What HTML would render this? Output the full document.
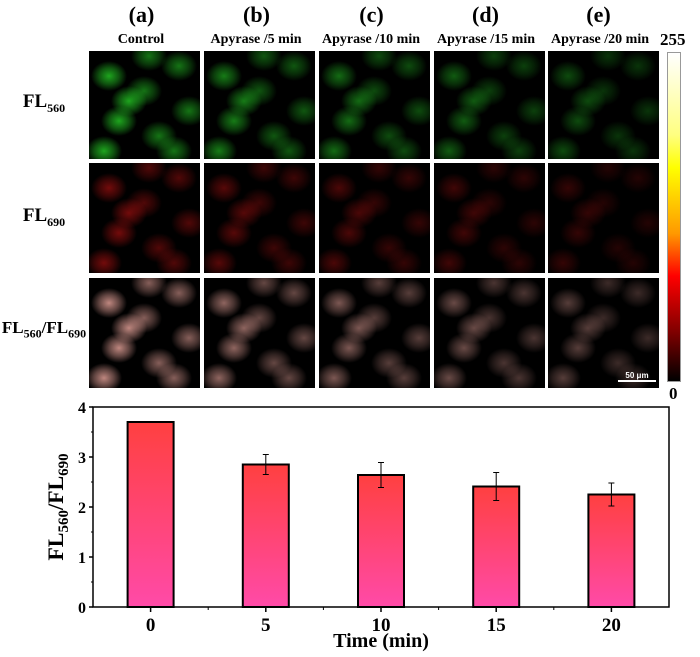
<!DOCTYPE html>
<html><head><meta charset="utf-8">
<style>
body{margin:0;background:#fff;width:700px;height:657px;position:relative;overflow:hidden;font-family:"Liberation Serif",serif;font-weight:bold;color:#000}
.abs{position:absolute}
.hdr{position:absolute;font-size:22px;text-align:center;width:111px;top:2px}
.sub{position:absolute;font-size:14px;text-align:center;width:118px;top:32px;white-space:nowrap}
.rl{position:absolute;font-size:19px;text-align:center;width:88px}
.rl sub{font-size:12px}
.panel{position:absolute;width:111px;background-color:#000;overflow:hidden}
</style></head>
<body>
<div class="hdr" style="left:86px">(a)</div>
<div class="hdr" style="left:201px">(b)</div>
<div class="hdr" style="left:316px">(c)</div>
<div class="hdr" style="left:430px">(d)</div>
<div class="hdr" style="left:543px">(e)</div>
<div class="sub" style="left:82px">Control</div>
<div class="sub" style="left:197px">Apyrase /5 min</div>
<div class="sub" style="left:312px">Apyrase /10 min</div>
<div class="sub" style="left:427px">Apyrase /15 min</div>
<div class="sub" style="left:541px">Apyrase /20 min</div>
<div class="rl" style="left:0;top:91px">FL<sub>560</sub></div>
<div class="rl" style="left:0;top:205px">FL<sub>690</sub></div>
<div class="rl" style="left:0;top:318px;font-size:17px">FL<sub>560</sub>/FL<sub>690</sub></div>
<div id="panels"></div>
<div class="abs" style="left:667px;top:52px;width:14px;height:330px;border:1px solid #999;box-sizing:border-box;background:linear-gradient(to bottom,#fff 0%,#ffff80 25%,#ffff00 35%,#ff9900 55%,#ff0000 68%,#800000 85%,#000 100%)"></div>
<div class="abs" style="left:660px;top:30px;font-size:17px">255</div>
<div class="abs" style="left:669px;top:384px;font-size:17px">0</div>
<svg class="abs" style="left:0;top:0" width="700" height="657" id="chart">
<defs><linearGradient id="bg" x1="0" y1="0" x2="0" y2="1"><stop offset="0" stop-color="#ff4040"/><stop offset="1" stop-color="#ff4aa8"/></linearGradient></defs>
</svg>
<script>
const cats=[0,5,10,15,20];
const vals=[3.7,2.85,2.64,2.41,2.25];
const errs=[0.01,0.2,0.25,0.28,0.23];
const yTicks=[0,1,2,3,4];
const NS="http://www.w3.org/2000/svg";
const svg=document.getElementById('chart');
const L=93,R=669,T=407,B=607;
const xs=v=>L+(v+2.5)/25*(R-L);
const ys=v=>B-v/4*(B-T);
function mk(t,a,p){const e=document.createElementNS(NS,t);for(const k in a)e.setAttribute(k,a[k]);(p||svg).appendChild(e);return e;}
const frame=mk('rect',{x:L,y:T,width:R-L,height:B-T,fill:'none',stroke:'#000','stroke-width':1.5});


cats.forEach((c,i)=>{
  const w=46,x=xs(c)-w/2;
  const r=mk('rect',{x:x,y:ys(vals[i]),width:w,height:B-ys(vals[i]),fill:'url(#bg)',stroke:'#000','stroke-width':2});
  
  
  const cx=xs(c),y1=ys(vals[i]+errs[i]),y2=ys(vals[i]-errs[i]);
  const eb=mk('path',{d:`M${cx},${y1}V${y2}M${cx-3},${y1}h6M${cx-3},${y2}h6`,stroke:'#000','stroke-width':1,fill:'none'});
  
  
  mk('line',{x1:cx,y1:B,x2:cx,y2:B+5,stroke:'#000','stroke-width':1.5});
  const t=mk('text',{x:cx,y:B+24,'text-anchor':'middle','font-size':19,'font-weight':'bold','font-family':'Liberation Serif'});
  t.textContent=c;
  
  
});
for(let v=2.5;v<22.5;v+=5)mk('line',{x1:xs(v),y1:B,x2:xs(v),y2:B+3,stroke:'#000'});
yTicks.forEach(v=>{
  mk('line',{x1:L-4,y1:ys(v),x2:L,y2:ys(v),stroke:'#000','stroke-width':1.5});
  if(v<4)mk('line',{x1:L-2,y1:ys(v+0.5),x2:L,y2:ys(v+0.5),stroke:'#000'});
  const t=mk('text',{x:L-7,y:ys(v)+6,'text-anchor':'end','font-size':16,'font-weight':'bold','font-family':'Liberation Serif'});
  t.textContent=v;
  
  
});
const xt=mk('text',{x:xs(10),y:647,'text-anchor':'middle','font-size':20,'font-weight':'bold','font-family':'Liberation Serif'});
xt.textContent='Time (min)';


const yt=mk('text',{x:0,y:0,'text-anchor':'middle','font-size':22,'font-weight':'bold','font-family':'Liberation Serif',transform:`translate(63,${(T+B)/2}) rotate(-90)`});
yt.innerHTML='FL<tspan font-size="15" dy="5">560</tspan><tspan dy="-5">/FL</tspan><tspan font-size="15" dy="5">690</tspan>';



const cols=[89,204,319,434,548];
const rows=[[51,108],[163,110],[278,110]];
const cells=[[20,25],[55,40],[90,15],[30,70],[70,85],[100,60],[15,100],[60,5],[85,100],[40,50]];
const bright=[1,0.75,0.65,0.55,0.45];
const pc=document.getElementById('panels');
const rowNames=['fl560','fl690','ratio'];
const colors=[[40,220,40],[210,20,20],[255,180,170]];
rows.forEach((r,ri)=>cols.forEach((x,ci)=>{
  const p=document.createElement('div');
  p.className='panel';
  p.style.left=x+'px';p.style.top=r[0]+'px';p.style.height=r[1]+'px';
  
  
  const c=colors[ri].join(','),b=bright[ci];
  p.style.backgroundImage=cells.map((q,k)=>{const a=(ri===1?0.55:0.75)*b*(k%3===0?1:0.7);return `radial-gradient(ellipse 18px 15px at ${q[0]}px ${q[1]}px, rgba(${c},${a}) 0%, rgba(${c},${(a*0.5).toFixed(3)}) 55%, rgba(0,0,0,0) 100%)`}).join(',');
  pc.appendChild(p);
}));
</script>
<div class="abs" style="left:618px;top:371px;width:38px;color:#fff;font-family:'Liberation Sans',sans-serif;font-size:8px;text-align:center;border-bottom:2px solid #fff">50 μm</div>
</body></html>
